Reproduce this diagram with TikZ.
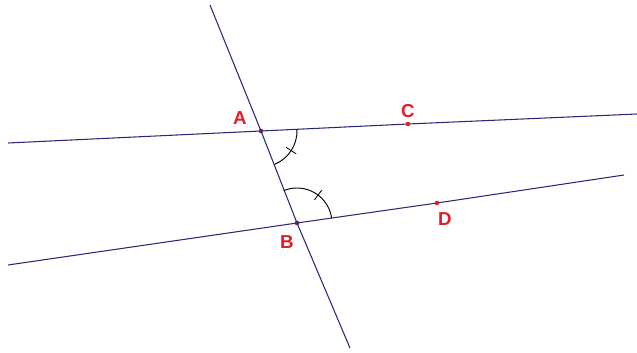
\documentclass[tikz,border=0pt]{standalone}
\usepackage{fontspec}
\setmainfont{Liberation Sans}
\usepackage{tikz}
\usetikzlibrary{calc}
\definecolor{navyline}{RGB}{40,40,120}
\definecolor{ptred}{RGB}{225,30,40}
\tikzset{
  ligne/.style={navyline, line width=0.9pt},
  lettre/.style={ptred, font=\fontsize{16}{18}\selectfont\bfseries},
  point/.style={ptred, fill=ptred},
}

\begin{document}
\begin{tikzpicture}[x=0.03cm, y=0.03cm]
  \useasboundingbox (0,0) rectangle (637,352);
  % points
  \coordinate (A) at (261,221);
  \coordinate (B) at (297,129);
  \coordinate (C) at (408,228);
  \coordinate (D) at (437,149);
  % ends of the lines
  \coordinate (t1) at (210,347);
  \coordinate (t2) at (350,4);
  \coordinate (h1) at (8,209);
  \coordinate (h2) at (637,238);
  \coordinate (b1) at (8,87);
  \coordinate (b2) at (624,177);
  % the two lines and the secant
  \draw[ligne] (h1) -- (A) -- (C) -- (h2);
  \draw[ligne] (b1) -- (B) -- (D) -- (b2);
  \draw[ligne] (t1) -- (A) -- (B) -- (t2);
  % angle marks
  \draw[black, line width=0.8pt] ($(A)+(-67.8:36)$) arc (-67.8:2.7:36);
  \draw[black, line width=0.7pt] ($(A)+(-33:30)$) -- ($(A)+(-33:42)$);
  \draw[black, line width=0.8pt] ($(B)+(8.1:35)$) arc (8.1:112.2:35);
  \draw[black, line width=0.7pt] ($(B)+(53:29)$) -- ($(B)+(53:41)$);
  % dots
  \fill[navyline!70!ptred] (A) circle (2.3);
  \fill[navyline!70!ptred] (B) circle (2.3);
  \fill[point] (C) circle (2.3);
  \fill[point] (D) circle (2.3);
  % labels
  \node[lettre] (lA) at (240,234) {A};
  \node[lettre] (lB) at (287,110) {B};
  \node[lettre] (lC) at (408,241) {C};
  \node[lettre] (lD) at (445,133) {D};
\end{tikzpicture}
\end{document}
